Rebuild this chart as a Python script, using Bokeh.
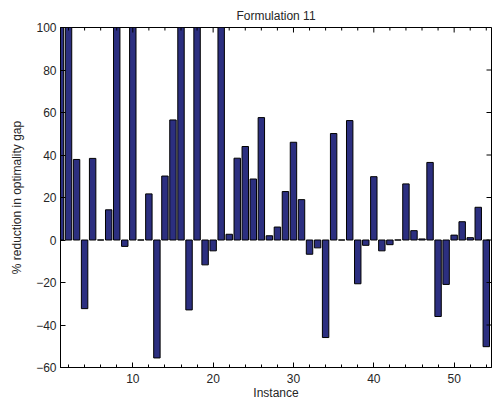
import math
from bokeh.plotting import figure
from bokeh.models import Range1d, FixedTicker, LinearAxis, ColumnDataSource
from bokeh.embed import file_html
from bokeh.resources import INLINE

# ---- data ----
instances = list(range(1, 55))
reduction = [100, 100, 37.9, -32.3, 38.4, 0, 14.2, 100, -3.0, 100,
             0, 21.7, -55.5, 30.1, 56.5, 100, -32.9, 100, -11.7, -5.1,
             100, 2.7, 38.5, 44.0, 28.7, 57.6, 2.0, 6.1, 22.8, 46.0,
             19.0, -6.7, -3.7, -45.9, 50.1, 0, 56.2, -20.6, -2.5, 29.8,
             -5.1, -2.2, 0, 26.4, 4.4, 0.5, 36.5, -36.0, -20.9, 2.3,
             8.6, 1.1, 15.4, -50.2]
x_ticks = [10, 20, 30, 40, 50]
x_minor_ticks = [t for t in range(2, 55, 2) if t % 10 != 0]
y_ticks = [-60, -40, -20, 0, 20, 40, 60, 80, 100]
y_tick_labels = ["\u221260", "\u221240", "\u221220", "0", "20", "40", "60", "80", "100"]
x_limits = (1, 54.65)
y_limits = (-60, 100)

title_text = "Formulation 11"
x_label = "Instance"
y_label = "% reduction in optimality gap"

FONT = "Liberation Sans"
FS = "12px"
TXT = "#262626"

src = ColumnDataSource(dict(x=instances, top=reduction))

p = figure(width=492, height=402, output_backend="svg", toolbar_location=None,
           x_range=Range1d(*x_limits), y_range=Range1d(*y_limits),
           min_border_left=60, min_border_right=1, min_border_top=27,
           min_border_bottom=34, x_axis_location=None, y_axis_location=None)
p.background_fill_color = "white"
p.border_fill_color = "white"
p.grid.visible = False
p.outline_line_color = "black"
p.outline_line_width = 1

p.title.text = title_text
p.title.align = "center"
p.title.text_font = FONT
p.title.text_font_size = FS
p.title.text_font_style = "normal"
p.title.text_color = TXT
p.title.standoff = 10

p.vbar(x="x", top="top", bottom=0, width=0.8, source=src,
       fill_color="#2c2f80", line_color="black", line_width=1)

# mirrored ticks on the top and right edges of the box (clipped to the frame)
n_top = len(x_ticks)
p.scatter(x=x_ticks, y=[y_limits[1]] * n_top, marker="dash", size=10,
          angle=math.pi / 2, line_color="black", line_width=1)
p.scatter(x=x_minor_ticks, y=[y_limits[1]] * len(x_minor_ticks), marker="dash",
          size=6, angle=math.pi / 2, line_color="black", line_width=1)
p.scatter(x=[x_limits[1]] * len(y_ticks), y=y_ticks, marker="dash", size=10,
          line_color="black", line_width=1)


def style_axis(ax):
    ax.axis_line_color = "black"
    ax.major_tick_line_color = "black"
    ax.minor_tick_line_color = "black"
    ax.major_tick_in = 5
    ax.major_tick_out = 0
    ax.minor_tick_in = 3
    ax.minor_tick_out = 0
    ax.major_label_text_font = FONT
    ax.major_label_text_color = TXT
    ax.major_label_text_font_size = FS
    ax.axis_label_text_font = FONT
    ax.axis_label_text_font_size = FS
    ax.axis_label_text_font_style = "normal"
    ax.axis_label_text_color = TXT


xt = FixedTicker(ticks=x_ticks, minor_ticks=x_minor_ticks)
yt = FixedTicker(ticks=y_ticks, minor_ticks=[])
overrides = {t: l for t, l in zip(y_ticks, y_tick_labels)}

xb = LinearAxis(ticker=xt, axis_label=x_label)
style_axis(xb)
xb.major_label_standoff = 6
xb.axis_label_standoff = 0
p.add_layout(xb, "below")

yl = LinearAxis(ticker=yt, axis_label=y_label, major_label_overrides=overrides)
style_axis(yl)
yl.major_label_standoff = 4
yl.axis_label_standoff = 9
p.add_layout(yl, "left")

open("out.html", "w").write(file_html(p, INLINE))
